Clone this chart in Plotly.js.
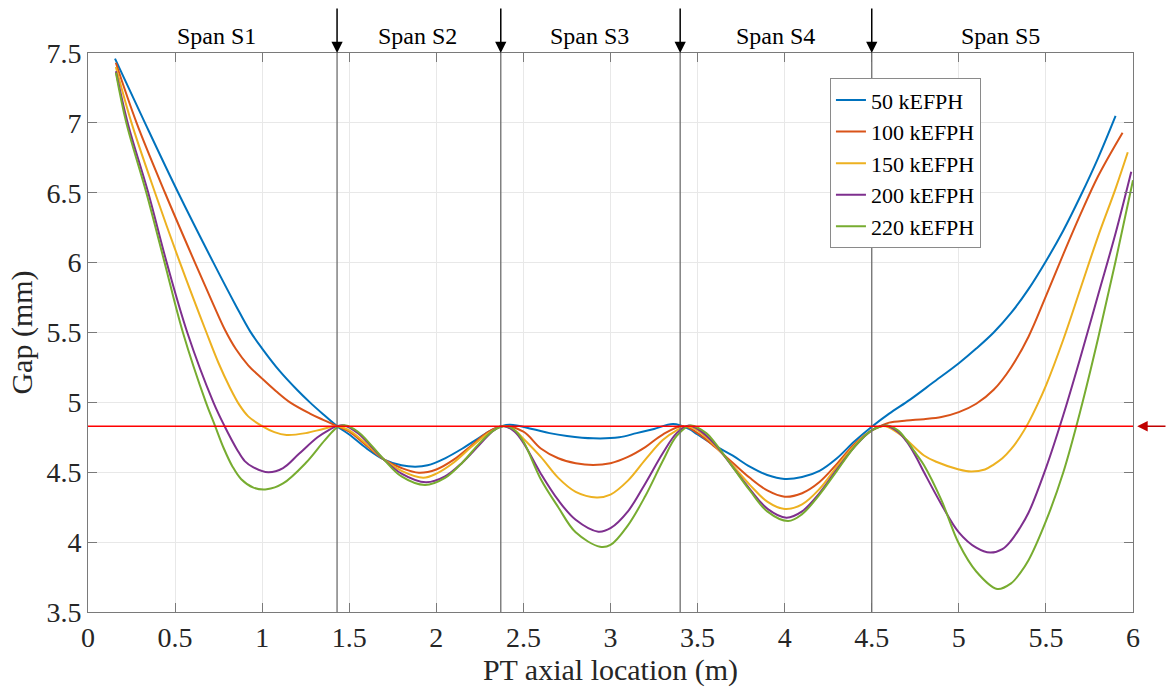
<!DOCTYPE html>
<html>
<head>
<meta charset="utf-8">
<script src="https://cdn.plot.ly/plotly-3.0.1.min.js"></script>
<style>html,body{margin:0;padding:0;background:#fff;}#chart{width:1167px;height:690px;}</style>
</head>
<body>
<div id="chart"></div>
<script>
// ---- Data ----
const seriesNames = ['50 kEFPH', '100 kEFPH', '150 kEFPH', '200 kEFPH', '220 kEFPH'];
const seriesColors = ['#0072BD', '#D95319', '#EDB120', '#7E2F8E', '#77AC30'];

const x50 = [0.155,0.327,0.518,0.72,0.85,0.93,1.0,1.1,1.2,1.274,1.35,1.43,
  1.5,1.6,1.7,1.8,1.88,1.95,2.05,2.15,2.25,2.33,2.42,
  2.55,2.65,2.75,2.9,3.05,3.15,3.25,3.36,
  3.45,3.5,3.6,3.7,3.8,3.9,4.0,4.1,4.2,4.3,4.4,4.5,
  4.6,4.72,4.85,5.0,5.1,5.2,5.3,5.4,5.5,5.6,5.7,5.8,5.9];
const y50 = [7.46,7.0,6.5,6.0,5.69,5.51,5.385,5.225,5.09,5.0,4.915,4.83,
  4.77,4.67,4.59,4.55,4.54,4.55,4.60,4.67,4.75,4.81,4.84,
  4.81,4.78,4.76,4.743,4.75,4.78,4.81,4.845,
  4.81,4.77,4.69,4.62,4.54,4.48,4.452,4.466,4.51,4.60,4.72,4.826,
  4.92,5.02,5.14,5.28,5.385,5.50,5.64,5.81,6.01,6.23,6.48,6.75,7.05];

const x100 = [0.16,0.279,0.442,0.614,0.72,0.786,0.85,0.92,1.0,1.08,1.16,1.274,1.35,1.43,
  1.5,1.6,1.7,1.8,1.9,2.0,2.1,2.2,2.3,2.38,
  2.5,2.6,2.7,2.8,2.9,3.0,3.1,3.2,3.3,3.42,
  3.5,3.6,3.7,3.8,3.9,4.0,4.1,4.2,4.3,4.4,4.5,4.55,
  4.6,4.7,4.8,4.9,5.0,5.1,5.2,5.3,5.4,5.5,5.6,5.7,5.8,5.94];
const y100 = [7.43,7.0,6.5,6.0,5.70,5.52,5.38,5.265,5.17,5.08,5.0,4.92,4.875,4.83,
  4.79,4.69,4.59,4.53,4.497,4.52,4.59,4.69,4.79,4.83,
  4.79,4.67,4.60,4.565,4.552,4.565,4.61,4.68,4.77,4.83,
  4.78,4.68,4.57,4.46,4.37,4.325,4.35,4.43,4.56,4.70,4.80,4.83,
  4.855,4.87,4.88,4.895,4.93,4.99,5.09,5.25,5.47,5.76,6.06,6.35,6.62,6.93];

const x150 = [0.16,0.25,0.385,0.528,0.68,0.75,0.813,0.87,0.92,1.0,1.07,1.14,1.25,1.35,1.43,
  1.5,1.6,1.7,1.8,1.925,2.0,2.1,2.2,2.3,2.38,
  2.45,2.5,2.6,2.7,2.8,2.92,3.0,3.1,3.2,3.3,3.38,3.44,
  3.5,3.6,3.7,3.8,3.9,4.0,4.1,4.2,4.3,4.4,4.5,4.56,
  4.6,4.68,4.8,4.87,5.0,5.07,5.15,5.2,5.25,5.3,5.35,5.4,5.45,5.5,5.6,5.7,5.8,5.9,5.97];
const y150 = [7.40,7.0,6.5,6.0,5.5,5.28,5.11,4.98,4.90,4.83,4.787,4.767,4.78,4.81,4.83,
  4.80,4.70,4.59,4.51,4.461,4.49,4.57,4.68,4.78,4.83,
  4.80,4.74,4.61,4.46,4.36,4.32,4.34,4.44,4.59,4.73,4.80,4.83,
  4.80,4.69,4.55,4.41,4.29,4.237,4.27,4.38,4.54,4.69,4.80,4.83,
  4.82,4.754,4.62,4.575,4.52,4.505,4.52,4.555,4.60,4.665,4.75,4.855,4.98,5.12,5.45,5.82,6.19,6.53,6.79];

const x200 = [0.16,0.228,0.346,0.452,0.57,0.72,0.78,0.857,0.9,0.95,1.035,1.12,1.21,1.318,1.38,1.43,1.47,
  1.55,1.6,1.7,1.8,1.94,2.05,2.15,2.25,2.33,2.39,
  2.45,2.5,2.6,2.7,2.8,2.93,3.0,3.1,3.2,3.3,3.38,3.45,
  3.5,3.6,3.7,3.8,3.9,4.01,4.1,4.2,4.3,4.4,4.5,4.58,
  4.65,4.7,4.75,4.8,4.9,5.0,5.1,5.18,5.25,5.3,5.35,5.4,5.5,5.6,5.7,5.8,5.9,5.99];
const y200 = [7.37,7.0,6.5,6.0,5.5,5.0,4.84,4.66,4.58,4.535,4.50,4.53,4.63,4.75,4.80,4.83,4.835,
  4.78,4.72,4.59,4.49,4.428,4.47,4.57,4.70,4.80,4.83,
  4.79,4.71,4.49,4.30,4.16,4.075,4.10,4.22,4.42,4.636,4.78,4.835,
  4.81,4.70,4.54,4.38,4.24,4.175,4.22,4.35,4.52,4.68,4.80,4.835,
  4.79,4.72,4.62,4.50,4.27,4.07,3.96,3.925,3.95,4.01,4.10,4.21,4.53,4.91,5.33,5.77,6.21,6.65];

const x220 = [0.16,0.22,0.335,0.44,0.545,0.677,0.73,0.78,0.83,0.88,0.95,1.026,1.12,1.25,1.36,1.43,1.48,
  1.55,1.6,1.7,1.8,1.935,2.05,2.15,2.25,2.33,2.40,
  2.45,2.5,2.6,2.7,2.8,2.94,3.0,3.1,3.2,3.3,3.38,3.46,
  3.55,3.6,3.7,3.8,3.9,4.02,4.1,4.2,4.3,4.4,4.5,4.59,
  4.65,4.7,4.75,4.8,4.9,5.0,5.1,5.22,5.3,5.35,5.4,5.5,5.6,5.7,5.8,5.9,6.0];
const y220 = [7.36,7.0,6.5,6.0,5.5,5.0,4.83,4.67,4.54,4.45,4.39,4.378,4.42,4.566,4.73,4.82,4.835,
  4.79,4.73,4.59,4.47,4.409,4.46,4.57,4.71,4.80,4.83,
  4.80,4.72,4.45,4.25,4.07,3.967,3.98,4.12,4.33,4.58,4.76,4.835,
  4.78,4.71,4.54,4.37,4.22,4.151,4.20,4.34,4.51,4.68,4.80,4.835,
  4.80,4.73,4.64,4.55,4.30,3.99,3.79,3.665,3.705,3.775,3.87,4.15,4.50,4.95,5.46,6.01,6.59];

const seriesX = [x50, x100, x150, x200, x220];
const seriesY = [y50, y100, y150, y200, y220];

const supportX = [1.43, 2.37, 3.40, 4.50];
const spanLabels = ['Span S1', 'Span S2', 'Span S3', 'Span S4', 'Span S5'];
const spanCenters = [0.74, 1.89, 2.88, 3.95, 5.24];
const limitGap = 4.83;

const xTicks = [0, 0.5, 1, 1.5, 2, 2.5, 3, 3.5, 4, 4.5, 5, 5.5, 6];
const yTicks = [3.5, 4, 4.5, 5, 5.5, 6, 6.5, 7, 7.5];

// ---- Build chart ----
const FONT = 'Liberation Serif, Times New Roman, serif';

const traces = seriesNames.map((name, i) => ({
  type: 'scatter', mode: 'lines', name: name,
  x: seriesX[i], y: seriesY[i],
  line: {color: seriesColors[i], width: 2, shape: 'spline', smoothing: 1}
}));

const shapes = supportX.map(sx => ({
  type: 'line', xref: 'x', yref: 'paper', x0: sx, x1: sx, y0: 0, y1: 1,
  line: {color: '#6e6e6e', width: 1.3}, layer: 'above'
}));
shapes.push({
  type: 'line', xref: 'x', yref: 'y', x0: xTicks[0], x1: xTicks[xTicks.length - 1],
  y0: limitGap, y1: limitGap, line: {color: '#ff0000', width: 1.5}, layer: 'above'
});

const annotations = [];
supportX.forEach(sx => annotations.push({
  x: sx, xref: 'x', y: 1, yref: 'paper', text: '', showarrow: true,
  ax: 0, ay: -46, arrowhead: 2, arrowsize: 1.5, arrowwidth: 1.5, arrowcolor: '#000000'
}));
spanLabels.forEach((t, i) => annotations.push({
  x: spanCenters[i], xref: 'x', y: 1, yref: 'paper', yanchor: 'bottom', yshift: 2,
  text: t, showarrow: false, font: {family: FONT, size: 24, color: '#000000'}
}));
annotations.push({
  x: 1.004, xref: 'paper', y: limitGap, yref: 'y', text: '', showarrow: true,
  ax: 32, ay: 0, arrowhead: 2, arrowsize: 1.4, arrowwidth: 1.5, arrowcolor: '#c00000'
});

const axisCommon = {
  showgrid: true, gridcolor: '#e8e8e8', gridwidth: 1,
  showline: true, linecolor: '#7a7a7a', linewidth: 1, mirror: 'ticks',
  ticks: 'inside', ticklen: 9, tickcolor: '#7a7a7a', tickwidth: 1,
  zeroline: false, tickfont: {family: FONT, size: 28, color: '#262626'}
};

const layout = {
  width: 1167, height: 690,
  margin: {l: 88, r: 34, t: 53, b: 78},
  paper_bgcolor: '#ffffff', plot_bgcolor: '#ffffff',
  font: {family: FONT, color: '#262626'},
  showlegend: true,
  legend: {
    x: 0.71, y: 0.955, xanchor: 'left', yanchor: 'top',
    bgcolor: '#ffffff', bordercolor: '#8a8a8a', borderwidth: 1,
    font: {family: FONT, size: 22, color: '#000000'}
  },
  xaxis: Object.assign({}, axisCommon, {
    range: [xTicks[0], xTicks[xTicks.length - 1]], tickvals: xTicks,
    title: {text: 'PT axial location (m)', font: {family: FONT, size: 30, color: '#262626'}, standoff: 4}
  }),
  yaxis: Object.assign({}, axisCommon, {
    range: [yTicks[0], yTicks[yTicks.length - 1]], tickvals: yTicks,
    title: {text: 'Gap (mm)', font: {family: FONT, size: 30, color: '#262626'}, standoff: 4}
  }),
  shapes: shapes,
  annotations: annotations
};

Plotly.newPlot('chart', traces, layout, {displayModeBar: false, staticPlot: true});
</script>
</body>
</html>
